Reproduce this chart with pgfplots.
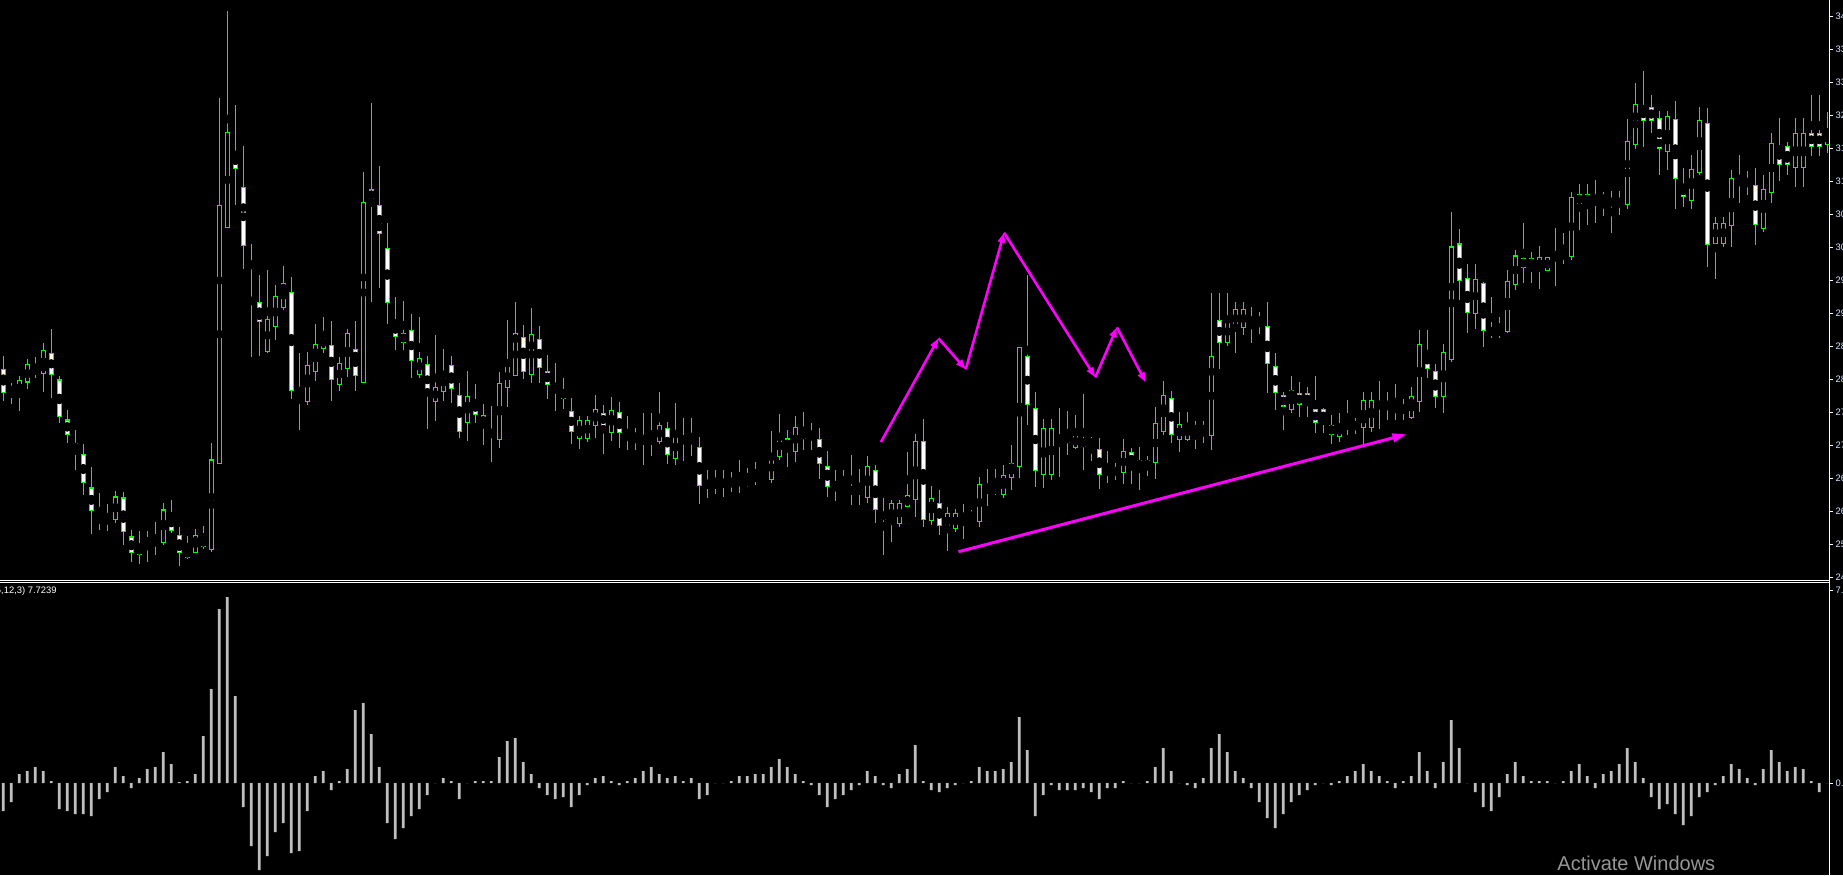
\documentclass[border=0pt]{standalone}
\usepackage{pgfplots}
\pgfplotsset{compat=1.18}
\usepackage{pgfplotstable}
\usetikzlibrary{arrows.meta}
\usepackage{fontspec}
\setmainfont{Liberation Sans}
\definecolor{candle}{RGB}{0,255,0}
\definecolor{hist}{RGB}{192,192,192}
\definecolor{lbl}{RGB}{215,230,255}
\definecolor{anno}{RGB}{255,0,255}

% candles: k = bar index, o h l c = open high low close, in chart pixel rows (down = lower price)
\pgfplotstableread{
k o h l c
0 369.6 356.3 401.1 392.6
1 392.6 383.3 404.1 387.8
2 395.2 376.3 411.1 380.7
3 381.9 358.5 389.3 364.8
4 371.9 357.4 378.1 368.9
5 373.0 342.6 392.2 350.7
6 353.7 329.3 398.1 374.1
7 380.0 376.3 423.3 416.3
8 420.0 409.6 443.3 434.1
9 443.3 430.4 470.4 451.1
10 454.8 444.1 495.2 482.2
11 488.1 466.7 534.4 510.4
12 522.2 492.6 529.6 517.0
13 523.3 503.7 530.7 517.0
14 519.3 491.1 523.3 497.0
15 498.1 491.9 545.2 531.5
16 537.0 529.6 562.2 552.2
17 554.4 530.7 564.4 545.9
18 544.4 530.7 561.5 538.9
19 542.2 521.5 555.2 542.2
20 542.6 502.6 545.2 510.0
21 515.2 499.6 533.3 530.4
22 535.2 527.0 566.3 552.2
23 557.4 535.6 558.9 548.9
24 552.2 528.9 553.3 535.2
25 538.1 525.6 549.3 546.3
26 549.3 442.6 551.5 460.0
27 463.0 98.1 463.0 205.6
28 227.0 11.1 227.0 132.6
29 152.6 105.2 204.8 168.5
30 187.8 146.3 268.9 245.6
31 261.9 244.4 357.4 267.8
32 302.6 275.2 356.3 321.1
33 351.1 270.4 353.0 319.6
34 326.7 285.2 340.0 296.3
35 307.0 266.3 310.0 283.7
36 292.6 277.4 399.3 390.7
37 402.2 352.6 429.6 397.0
38 401.7 352.0 404.7 365.3
39 371.7 324.0 380.7 344.3
40 348.7 317.3 352.7 336.3
41 345.3 321.3 400.7 379.7
42 384.7 357.0 390.7 363.3
43 368.7 329.0 377.3 333.3
44 349.3 321.3 390.7 375.7
45 382.7 172.3 382.7 202.3
46 189.3 103.3 301.7 200.3
47 205.3 166.3 287.7 233.3
48 248.3 223.3 324.0 302.3
49 322.3 297.3 349.7 336.3
50 342.7 301.0 349.7 333.3
51 330.3 314.0 377.7 360.3
52 374.3 317.3 377.7 358.3
53 364.3 356.0 428.7 395.3
54 401.7 335.0 420.7 387.3
55 391.3 349.0 400.7 373.3
56 365.3 356.0 402.7 388.3
57 395.3 383.3 437.7 431.7
58 422.7 371.0 440.7 396.3
59 400.3 384.0 422.7 414.3
60 415.3 404.0 444.7 425.7
61 429.3 406.0 461.7 436.7
62 439.7 372.0 447.7 383.3
63 387.3 320.0 406.7 365.3
64 375.7 302.0 375.7 333.3
65 337.3 325.0 378.7 371.7
66 374.7 308.0 382.7 334.3
67 339.3 326.0 382.7 367.3
68 371.3 355.0 398.7 384.3
69 390.3 363.0 410.7 388.3
70 390.3 378.0 408.7 398.3
71 411.3 398.3 443.7 431.7
72 438.7 416.0 448.7 420.3
73 438.7 416.0 441.7 420.3
74 425.7 394.7 437.7 409.3
75 413.3 404.7 453.7 425.7
76 432.7 397.0 441.0 410.3
77 412.3 402.0 447.7 432.7
78 436.7 416.0 450.0 436.7
79 436.7 428.0 450.0 436.7
80 442.7 413.0 465.0 438.3
81 442.7 413.0 456.0 438.3
82 441.7 392.0 443.7 425.3
83 428.3 422.3 464.0 454.3
84 458.7 403.0 465.0 435.3
85 437.3 418.0 461.0 442.7
86 437.3 418.0 456.0 442.7
87 447.3 437.0 503.7 485.7
88 487.7 470.0 497.7 481.3
89 487.7 470.0 493.7 481.3
90 481.3 470.0 496.7 484.7
91 481.3 472.0 491.7 484.7
92 485.7 460.0 492.7 478.3
93 485.7 468.0 486.7 478.3
94 477.7 462.0 484.7 477.7
95 477.7 477.7 484.7 477.7
96 479.7 431.0 482.7 455.3
97 456.7 414.0 459.7 435.3
98 438.3 430.0 466.7 449.3
99 451.7 416.0 461.7 427.3
100 431.3 412.0 449.7 438.3
101 431.3 423.0 449.7 438.3
102 439.3 428.0 478.7 463.3
103 466.3 451.0 496.7 486.3
104 489.7 470.0 500.7 484.3
105 489.7 470.0 490.7 484.3
106 487.3 455.0 504.7 493.3
107 487.3 469.0 504.7 493.3
108 497.3 456.0 502.7 466.3
109 470.3 465.0 522.7 509.3
110 512.3 498.0 554.7 519.3
111 523.3 500.0 541.7 503.3
112 523.3 500.0 526.7 503.3
113 506.3 452.0 507.3 495.3
114 499.3 434.0 517.3 441.3
115 441.3 419.3 527.3 519.3
116 520.3 486.0 525.3 498.3
117 503.3 490.0 534.7 525.3
118 528.3 507.3 550.7 513.3
119 528.3 509.3 532.3 513.3
120 516.7 504.3 539.3 516.7
121 516.7 510.3 521.3 516.7
122 521.3 477.0 527.3 484.3
123 489.7 469.0 506.3 489.7
124 489.7 469.0 495.3 489.7
125 494.3 465.0 498.3 475.3
126 477.3 445.0 490.3 463.3
127 466.3 347.3 478.3 347.3
128 356.3 275.0 425.3 404.0
129 408.3 392.3 487.3 470.3
130 474.3 419.3 488.3 428.3
131 474.3 419.3 480.3 428.3
132 435.3 408.3 477.3 442.3
133 435.3 411.3 455.3 442.3
134 447.3 415.3 449.3 435.3
135 439.3 394.3 470.3 446.3
136 439.3 437.3 461.3 446.3
137 449.3 438.3 489.3 474.3
138 474.3 451.3 483.3 468.3
139 474.3 463.3 480.3 468.3
140 472.3 439.3 484.3 451.3
141 452.3 448.3 484.3 466.3
142 468.3 447.3 490.3 460.3
143 468.3 456.3 476.3 460.3
144 462.3 407.3 479.3 423.3
145 431.3 381.3 435.3 395.3
146 398.7 391.3 443.3 434.3
147 439.3 412.3 452.3 424.3
148 439.3 412.3 441.3 424.3
149 426.3 421.3 449.3 432.3
150 426.3 421.3 443.3 432.3
151 435.3 293.3 450.3 356.3
152 320.3 293.3 369.3 342.3
153 342.7 293.3 346.0 320.3
154 327.7 302.3 352.7 309.3
155 327.7 302.3 334.7 309.3
156 318.3 307.3 342.7 323.3
157 318.3 312.3 333.7 323.3
158 326.3 302.3 393.3 363.7
159 366.3 353.0 409.7 392.7
160 395.3 392.3 429.7 406.7
161 409.7 376.3 412.7 390.3
162 393.3 382.3 416.7 404.7
163 393.3 387.3 416.7 404.7
164 409.3 376.3 432.7 422.7
165 409.3 408.3 432.7 422.7
166 425.3 415.3 443.7 434.7
167 436.7 413.3 441.7 424.3
168 427.3 400.3 434.7 423.3
169 427.3 418.3 433.7 423.3
170 427.7 392.3 446.7 400.3
171 427.7 392.3 431.7 400.3
172 408.7 381.3 428.7 401.3
173 408.7 392.3 419.7 401.3
174 406.3 384.3 419.7 411.3
175 406.3 399.3 419.7 411.3
176 417.7 387.3 418.7 396.3
177 401.7 330.3 411.7 344.3
178 351.3 330.3 377.7 368.7
179 371.3 364.3 408.3 396.3
180 396.3 344.3 412.7 352.3
181 359.3 212.0 361.7 247.0
182 244.0 229.0 300.0 280.0
183 278.3 264.0 333.3 312.3
184 313.3 264.0 328.7 279.3
185 283.3 282.0 346.7 330.3
186 334.3 297.3 337.7 328.3
187 334.3 317.3 337.7 328.3
188 331.3 270.0 333.3 281.3
189 284.0 250.0 290.0 256.0
190 258.7 223.0 283.3 267.3
191 258.7 252.3 283.3 267.3
192 270.3 246.3 289.3 257.3
193 270.3 257.3 271.3 257.3
194 257.3 228.3 286.3 253.3
195 257.3 233.3 264.3 253.3
196 256.3 192.3 260.3 197.3
197 203.3 184.3 230.3 194.7
198 203.3 184.3 225.3 194.7
199 198.7 180.3 222.7 198.7
200 198.7 192.3 216.3 198.7
201 204.3 191.3 232.7 199.7
202 204.3 191.3 215.3 199.7
203 204.3 118.7 209.3 141.7
204 144.3 83.3 149.3 104.3
205 107.3 71.3 147.3 120.3
206 107.3 95.3 133.3 120.3
207 118.3 111.3 174.7 148.3
208 151.3 111.3 169.7 116.3
209 119.3 101.3 208.7 178.3
210 185.3 168.3 207.3 196.3
211 200.3 155.3 208.7 169.3
212 172.3 107.3 174.7 120.3
213 123.3 108.3 266.7 244.3
214 243.3 217.3 278.7 223.3
215 243.3 217.3 247.3 223.3
216 225.3 170.3 246.7 178.3
217 182.0 155.3 202.7 182.0
218 182.0 171.3 194.7 182.0
219 185.3 168.3 244.7 224.3
220 228.3 175.3 231.7 189.3
221 192.3 133.3 202.7 143.3
222 146.3 118.3 180.7 164.3
223 146.3 142.3 174.7 164.3
224 167.3 118.3 186.7 133.3
225 167.3 118.3 186.7 133.3
226 133.3 95.3 155.7 146.3
227 133.3 95.3 155.7 146.3
228 144.3 112.3 152.7 132.3
}\candles

% oscillator histogram (pixel height above the zero line)
\pgfplotstableread{
k v
0 -28
1 -19
2 9
3 12
4 16
5 12
6 2
7 -26
8 -28
9 -31
10 -31
11 -33
12 -16
13 -9
14 16
15 7
16 -5
17 5
18 14
19 16
20 31
21 19
22 1
23 2
24 9
25 47
26 94
27 174
28 186
29 87
30 -24
31 -63
32 -87
33 -73
34 -49
35 -40
36 -70
37 -68
38 -28
39 7
40 12
41 -7
42 2
43 14
44 73
45 80
46 49
47 16
48 -40
49 -56
50 -45
51 -33
52 -26
53 -12
54 0
55 5
56 2
57 -16
58 0
59 2
60 2
61 2
62 26
63 42
64 45
65 21
66 9
67 -5
68 -12
69 -16
70 -14
71 -24
72 -12
73 -2
74 5
75 7
76 2
77 -2
78 2
79 5
80 12
81 16
82 9
83 5
84 7
85 2
86 5
87 -16
88 -12
89 0
90 0
91 2
92 7
93 7
94 9
95 9
96 16
97 24
98 16
99 9
100 2
101 -2
102 -12
103 -24
104 -16
105 -12
106 -7
107 -2
108 12
109 7
110 -2
111 -5
112 9
113 14
114 38
115 2
116 -7
117 -9
118 -5
119 -2
120 0
121 2
122 16
123 12
124 12
125 14
126 21
127 66
128 33
129 -33
130 -12
131 -2
132 -7
133 -7
134 -7
135 -5
136 -9
137 -16
138 -5
139 -5
140 2
141 0
142 0
143 2
144 16
145 35
146 12
147 0
148 -2
149 -5
150 5
151 35
152 49
153 31
154 12
155 5
156 -5
157 -19
158 -35
159 -45
160 -31
161 -19
162 -12
163 -7
164 -2
165 0
166 -2
167 2
168 7
169 12
170 19
171 12
172 7
173 2
174 -5
175 2
176 7
177 31
178 12
179 -5
180 21
181 63
182 35
183 0
184 -9
185 -24
186 -28
187 -14
188 9
189 21
190 7
191 2
192 2
193 2
194 0
195 2
196 12
197 19
198 7
199 -5
200 9
201 12
202 19
203 35
204 21
205 5
206 -14
207 -26
208 -21
209 -31
210 -42
211 -33
212 -14
213 -9
214 -2
215 7
216 19
217 14
218 5
219 -2
220 14
221 33
222 21
223 12
224 16
225 14
226 2
227 -9
228 0
}\osma

\begin{document}
\begin{tikzpicture}
\fill[black] (0pt,0pt) rectangle (921.5pt,-437.5pt);
\begin{axis}[
  at={(0pt,0pt)}, anchor=north west, scale only axis,
  width=914.65pt, height=290pt,
  xmin=-0.4167, xmax=228.25, ymin=0, ymax=580, y dir=reverse,
  axis x line=none, axis y line*=right,
  y axis line style={draw=white, line width=0.5pt},
  xtick=\empty,
  ytick={16,49,82,115,148,181,214,247,280,313,346,379,412,445,478,511,544,577},
  yticklabels={34.14,33.60,33.06,32.52,31.98,31.44,30.90,30.36,29.82,29.28,28.74,28.20,27.66,27.12,26.58,26.04,25.50,24.96},
  tick align=outside, major tick length=1.6pt,
  ytick style={draw=white, line width=0.5pt},
  yticklabel style={font=\fontsize{4.7}{5}\selectfont, text=lbl, anchor=west, inner sep=0pt, xshift=1.4pt},
]
% wicks
\addplot[only marks, mark=none, forget plot,
  error bars/.cd, y dir=both, y explicit, error mark=none,
  error bar style={draw=candle, line width=0.5pt}]
  table[x=k, y expr={(\thisrow{h}+\thisrow{l})/2}, y error expr={(\thisrow{l}-\thisrow{h})/2}] {\candles};
% body outlines
\addplot[only marks, mark=none, forget plot,
  error bars/.cd, y dir=both, y explicit, error mark=none,
  error bar style={draw=candle, line width=2.5pt}]
  table[x=k, y expr={(\thisrow{o}+\thisrow{c})/2}, y error expr={abs(\thisrow{o}-\thisrow{c})/2+0.7}] {\candles};
% bearish bodies (white)
\addplot[only marks, mark=none, forget plot,
  restrict expr to domain={\thisrow{c}-\thisrow{o}}{0.5:1000},
  error bars/.cd, y dir=both, y explicit, error mark=none,
  error bar style={draw=white, line width=1.5pt}]
  table[x=k, y expr={(\thisrow{o}+\thisrow{c})/2}, y error expr={max(abs(\thisrow{o}-\thisrow{c})/2-0.5,0)}] {\candles};
% bullish bodies (black)
\addplot[only marks, mark=none, forget plot,
  restrict expr to domain={\thisrow{c}-\thisrow{o}}{-1000:-0.5},
  error bars/.cd, y dir=both, y explicit, error mark=none,
  error bar style={draw=black, line width=1.5pt}]
  table[x=k, y expr={(\thisrow{o}+\thisrow{c})/2}, y error expr={max(abs(\thisrow{o}-\thisrow{c})/2-0.5,0)}] {\candles};
% annotations
\addplot[anno, line width=1.3pt, -{Triangle[length=5pt,width=3.6pt]}] coordinates {(109.7,442) (116.9,338.3)};
\addplot[anno, line width=1.3pt, -{Triangle[length=5pt,width=3.6pt]}] coordinates {(116.9,338.3) (120.3,369.3)};
\addplot[anno, line width=1.3pt, -{Triangle[length=5pt,width=3.6pt]}] coordinates {(120.3,369.3) (125.1,232.7)};
\addplot[anno, line width=1.3pt, -{Triangle[length=5pt,width=3.6pt]}] coordinates {(125.1,232.7) (136.5,377.3)};
\addplot[anno, line width=1.3pt, -{Triangle[length=5pt,width=3.6pt]}] coordinates {(136.5,377.3) (139.2,327.3)};
\addplot[anno, line width=1.3pt, -{Triangle[length=5pt,width=3.6pt]}] coordinates {(139.2,327.3) (142.8,382.3)};
\addplot[anno, line width=1.5pt, -{Triangle[length=7pt,width=4.2pt]}] coordinates {(119.4,551.7) (175.4,434.3)};
\end{axis}

\begin{axis}[
  at={(0pt,-292pt)}, anchor=north west, scale only axis,
  width=914.65pt, height=145.5pt,
  xmin=-0.4167, xmax=228.25, ymin=-92, ymax=199,
  axis x line=none, axis y line*=right,
  y axis line style={draw=white, line width=0.5pt},
  xtick=\empty,
  ytick={193,0}, yticklabels={7.9146,0.0000},
  tick align=outside, major tick length=1.6pt,
  ytick style={draw=white, line width=0.5pt},
  yticklabel style={font=\fontsize{4.7}{5}\selectfont, text=lbl, anchor=west, inner sep=0pt, xshift=1.4pt},
]
\addplot[ybar, bar width=1.35pt, fill=hist, draw=none] table[x=k, y=v] {\osma};
\end{axis}

% frame lines
\draw[white, line width=0.5pt] (0pt,-290.25pt) -- (914.65pt,-290.25pt);
\draw[white, line width=0.5pt] (0pt,-291.25pt) -- (914.65pt,-291.25pt);
\draw[white, line width=0.5pt] (914.65pt,0pt) -- (914.65pt,-437.5pt);
\node[anchor=east, inner sep=0pt, text=white, font=\fontsize{4.7}{5}\selectfont] at (28.5pt,-295.6pt) {(5,12,3) 7.7239};
\node[anchor=base west, inner sep=0pt, text={rgb,255:red,150;green,150;blue,150}, font=\fontsize{10}{12}\selectfont] at (778.5pt,-435.3pt) {Activate Windows};
\pgfresetboundingbox
\useasboundingbox (0pt,0pt) rectangle (921.5pt,-437.5pt);
\end{tikzpicture}
\end{document}
